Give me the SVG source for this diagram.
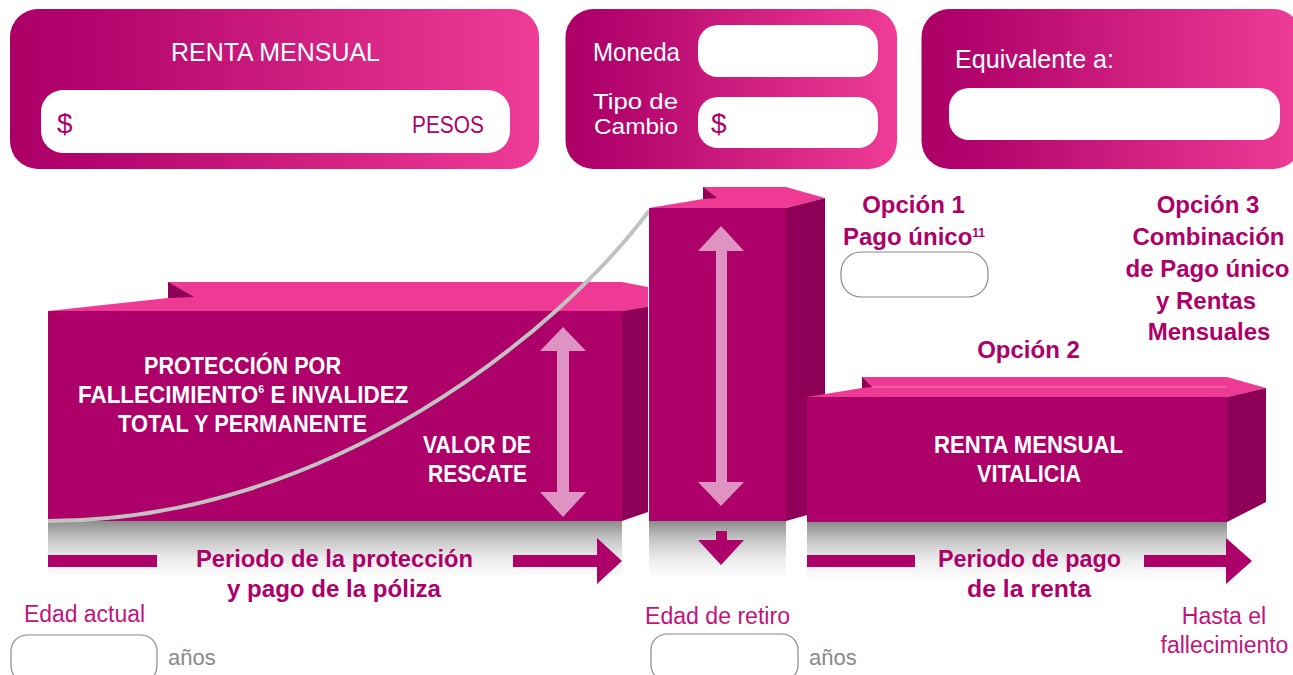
<svg xmlns="http://www.w3.org/2000/svg" width="1293" height="675" viewBox="0 0 1293 675">
<defs>
<linearGradient id="pg" x1="0" y1="0" x2="1" y2="0">
<stop offset="0" stop-color="#AC0067"/>
<stop offset="0.15" stop-color="#B2046C"/>
<stop offset="1" stop-color="#EF3C97"/>
</linearGradient>
<linearGradient id="refl" x1="0" y1="0" x2="0" y2="1">
<stop offset="0" stop-color="#8C8C8C"/>
<stop offset="0.3" stop-color="#C4C4C4"/>
<stop offset="0.65" stop-color="#ECECEC"/>
<stop offset="1" stop-color="#FFFFFF"/>
</linearGradient>
<style>
.panel{fill:url(#pg)}
.field{fill:#FFFFFF}
.front{fill:#AD0069}
.side{fill:#8E0058}
.top{fill:#EE3A94}
.notch{fill:#8E0058}
.dbl{fill:#DE93C2}
.mag{fill:#AD0069}
.refl{fill:url(#refl)}
.box{fill:#FFFFFF;stroke:#8A8A8A;stroke-width:1.2}
text{font-family:"Liberation Sans",Arial,sans-serif}
.wr{fill:#FFFFFF;font-size:25px}
.wb{fill:#FFFFFF;font-size:23.5px;font-weight:bold}
.mb{fill:#AD0069;font-size:23.5px;font-weight:bold}
.ob{fill:#AD0069;font-size:24px;font-weight:bold}
.lab{fill:#C0147C;font-size:23px}
.gr{fill:#8A8A8A;font-size:22px}
.dol{fill:#AD0069;font-size:28px}
.mid{text-anchor:middle}
</style>
</defs>

<g id="panel-renta-mensual">
<rect class="panel" x="10" y="9" width="529" height="160" rx="28"/>
<text class="wr mid" x="275.5" y="61" font-size="26" textLength="209" lengthAdjust="spacingAndGlyphs">RENTA MENSUAL</text>
<rect class="field" x="41" y="90" width="469" height="63" rx="22"/>
<text class="dol" x="57" y="133">$</text>
<text class="dol" x="412" y="133" style="font-size:23.5px" textLength="72" lengthAdjust="spacingAndGlyphs">PESOS</text>
</g>

<g id="panel-moneda">
<rect class="panel" x="565.5" y="9" width="331.5" height="160" rx="28"/>
<text class="wr" x="593" y="61" textLength="87" lengthAdjust="spacingAndGlyphs">Moneda</text>
<rect class="field" x="698" y="25" width="180" height="52" rx="20"/>
<text class="wr" x="593" y="109" style="font-size:22px" textLength="85" lengthAdjust="spacingAndGlyphs">Tipo de</text>
<text class="wr" x="594" y="134" style="font-size:22px" textLength="84" lengthAdjust="spacingAndGlyphs">Cambio</text>
<rect class="field" x="698" y="97" width="180" height="51" rx="20"/>
<text class="dol" x="711" y="133">$</text>
</g>

<g id="panel-equivalente">
<rect class="panel" x="921.5" y="9" width="380" height="160" rx="28"/>
<text class="wr" x="955" y="68" textLength="159" lengthAdjust="spacingAndGlyphs">Equivalente a:</text>
<rect class="field" x="949" y="88" width="331" height="52" rx="20"/>
</g>

<g id="box-proteccion">
<rect class="refl" x="48" y="521" width="574" height="58"/>
<polygon class="top" points="48,311 168,298 168,282 622,282 648,287 648,308 622,311"/>
<polygon class="notch" points="168,282 168,298 194,297"/>
<polygon class="side" points="622,311 648,307 648,512 622,521"/>
<rect class="front" x="48" y="311" width="574" height="210"/>
<text class="wb mid" x="242.5" y="374" textLength="197" lengthAdjust="spacingAndGlyphs">PROTECCIÓN POR</text>
<text class="wb" transform="translate(78,403) scale(0.955,1)" x="0" y="0">FALLECIMIENTO<tspan style="font-size:11px" dy="-10">6</tspan><tspan dy="10"> E INVALIDEZ</tspan></text>
<text class="wb mid" x="242.5" y="432" textLength="249" lengthAdjust="spacingAndGlyphs">TOTAL Y PERMANENTE</text>
<text class="wb mid" x="477" y="453" textLength="108" lengthAdjust="spacingAndGlyphs">VALOR DE</text>
<text class="wb mid" x="477.5" y="482" textLength="99" lengthAdjust="spacingAndGlyphs">RESCATE</text>
</g>

<path id="curva-rescate" d="M48,521 C330,521 560,330 649,211" fill="none" stroke="#C2C2C2" stroke-width="4"/>

<g id="box-retiro">
<rect class="refl" x="649" y="521" width="137" height="58"/>
<polygon class="top" points="649,208 703,199 703,187 786,187 825,198 786,208"/>
<polygon class="notch" points="703,187 703,199 717,198"/>
<polygon class="side" points="786,208 825,198 825,510 786,521"/>
<rect class="front" x="649" y="208" width="137" height="313"/>
</g>

<g id="box-renta-vitalicia">
<rect class="refl" x="807" y="522" width="420" height="58"/>
<polygon class="top" points="807,397 862,388 862,377 1227,377 1266,388 1227,397"/>
<polygon class="notch" points="862,377 862,388 872,387"/>
<line x1="872" y1="387" x2="1227" y2="387" stroke="#F47DB7" stroke-width="1"/>
<polygon class="side" points="1227,397 1266,388 1266,502 1227,522"/>
<rect class="front" x="807" y="397" width="420" height="125"/>
<text class="wb mid" x="1028.5" y="453" textLength="189" lengthAdjust="spacingAndGlyphs">RENTA MENSUAL</text>
<text class="wb mid" x="1029" y="482" textLength="104" lengthAdjust="spacingAndGlyphs">VITALICIA</text>
</g>

<g id="opciones">
<text class="ob mid" x="913.5" y="213">Opción 1</text>
<text class="ob" x="843" y="245">Pago único<tspan style="font-size:12px" dy="-8">11</tspan></text>
<rect class="box" x="841" y="252" width="147" height="45" rx="20"/>
<text class="ob mid" x="1028.5" y="358">Opción 2</text>
<text class="ob mid" x="1208" y="213">Opción 3</text>
<text class="ob mid" x="1208.5" y="245">Combinación</text>
<text class="ob mid" x="1207.5" y="277">de Pago único</text>
<text class="ob mid" x="1206" y="309">y Rentas</text>
<text class="ob mid" x="1209" y="340">Mensuales</text>
</g>

<g id="connectors">
<path class="dbl" d="M563,327 L586,351 L569,351 L569,492 L586,492 L563,517 L540,492 L557,492 L557,351 L540,351 Z"/>
<path class="dbl" d="M721,226 L744,251 L727,251 L727,482 L744,482 L721,506 L698,482 L716,482 L716,251 L698,251 Z"/>
<path class="mag" d="M716,531 L727,531 L727,540 L744,540 L721,565 L698,540 L716,540 Z"/>
<rect class="mag" x="48" y="555" width="109" height="12"/>
<path class="mag" d="M513,555 L597,555 L597,538 L622,561 L597,584 L597,567 L513,567 Z"/>
<rect class="mag" x="807" y="555" width="108" height="12"/>
<path class="mag" d="M1144,555 L1226,555 L1226,538 L1252,561 L1226,584 L1226,567 L1144,567 Z"/>
</g>

<g id="periodos">
<text class="mb mid" x="334.5" y="567" textLength="277" lengthAdjust="spacingAndGlyphs">Periodo de la protección</text>
<text class="mb mid" x="334" y="597" textLength="214" lengthAdjust="spacingAndGlyphs">y pago de la póliza</text>
<text class="mb mid" x="1029.5" y="567" textLength="183" lengthAdjust="spacingAndGlyphs">Periodo de pago</text>
<text class="mb mid" x="1029" y="597" textLength="124" lengthAdjust="spacingAndGlyphs">de la renta</text>
</g>

<g id="edad-actual">
<text class="lab" x="24" y="622" textLength="121" lengthAdjust="spacingAndGlyphs">Edad actual</text>
<rect class="box" x="11" y="635" width="146" height="47" rx="16"/>
<text class="gr" x="168" y="665">años</text>
</g>

<g id="edad-retiro">
<text class="lab" x="645" y="624" textLength="145" lengthAdjust="spacingAndGlyphs">Edad de retiro</text>
<rect class="box" x="651" y="634" width="147" height="47" rx="16"/>
<text class="gr" x="809" y="665">años</text>
</g>

<g id="fallecimiento">
<text class="lab mid" x="1224" y="624">Hasta el</text>
<text class="lab mid" x="1224.5" y="653">fallecimiento</text>
</g>
</svg>
